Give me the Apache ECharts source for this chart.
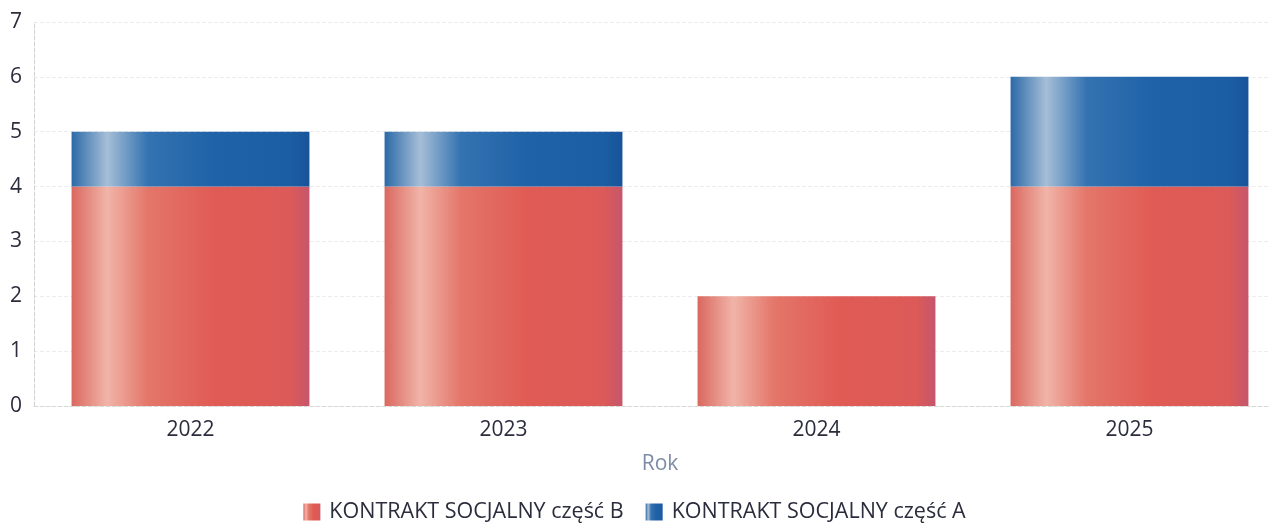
<!DOCTYPE html>
<html>
<head>
<meta charset="utf-8">
<script src="https://cdn.jsdelivr.net/npm/echarts@6/dist/echarts.min.js"></script>
<style>
  html, body { margin: 0; padding: 0; background: #fff; }
  #chart { width: 1269px; height: 525px; }
</style>
</head>
<body>
<div id="chart"></div>
<script>
// dane
const years = ['2022', '2023', '2024', '2025'];
const czescB = [4, 4, 2, 4];
const czescA = [1, 1, 0, 2];

// poziomy gradient z jasnym pasem po lewej stronie słupka
function shade(stops) {
  return new echarts.graphic.LinearGradient(0, 0, 1, 0,
    stops.map(s => ({ offset: s[0], color: s[1] })));
}
const redFill = shade([[0, '#da685f'], [0.15, '#f1b4a8'], [0.32, '#e4766a'], [0.6, '#e05b54'], [0.92, '#dc5a58'], [1, '#c6566c']]);
const blueFill = shade([[0, '#2c6aa8'], [0.15, '#a6bed7'], [0.32, '#3473b1'], [0.6, '#1f62a8'], [0.92, '#1c5ea3'], [1, '#18539a']]);

const chart = echarts.init(document.getElementById('chart'));
chart.setOption({
  animation: false,
  textStyle: { fontFamily: 'Open Sans' },
  // wykres jest przycięty z prawej, więc siatka wychodzi poza kadr
  grid: { left: 34, top: 22, width: 1252, height: 384, outerBoundsMode: 'none', containLabel: false },
  legend: {
    top: 496,
    left: 'center',
    itemWidth: 17,
    itemHeight: 17,
    itemGap: 22,
    icon: 'rect',
    textStyle: { fontSize: 21.5, color: '#2b2d3c', fontFamily: 'Open Sans', padding: [0, 0, 0, 4] },
    data: ['KONTRAKT SOCJALNY część B', 'KONTRAKT SOCJALNY część A']
  },
  xAxis: {
    type: 'category',
    data: years,
    name: 'Rok',
    nameLocation: 'middle',
    nameGap: 48,
    nameTextStyle: { fontSize: 21, color: '#7d8ca6' },
    axisLine: { lineStyle: { color: '#d8d8d8', type: 'dashed' } },
    axisTick: { show: false },
    axisLabel: { fontSize: 21, color: '#2b2d3c', margin: 14 }
  },
  yAxis: {
    type: 'value',
    min: 0,
    max: 7,
    interval: 1,
    axisLine: { show: true, lineStyle: { color: '#d0d0d0', type: 'dashed' } },
    axisLabel: { fontSize: 21, color: '#2b2d3c', margin: 12 },
    splitLine: { lineStyle: { color: '#ececec', type: 'dashed' } }
  },
  series: [
    {
      name: 'KONTRAKT SOCJALNY część B',
      type: 'bar',
      stack: 'total',
      barWidth: '76%',
      data: czescB,
      itemStyle: { color: redFill }
    },
    {
      name: 'KONTRAKT SOCJALNY część A',
      type: 'bar',
      stack: 'total',
      barWidth: '76%',
      data: czescA,
      itemStyle: { color: blueFill }
    }
  ]
});
</script>
</body>
</html>
